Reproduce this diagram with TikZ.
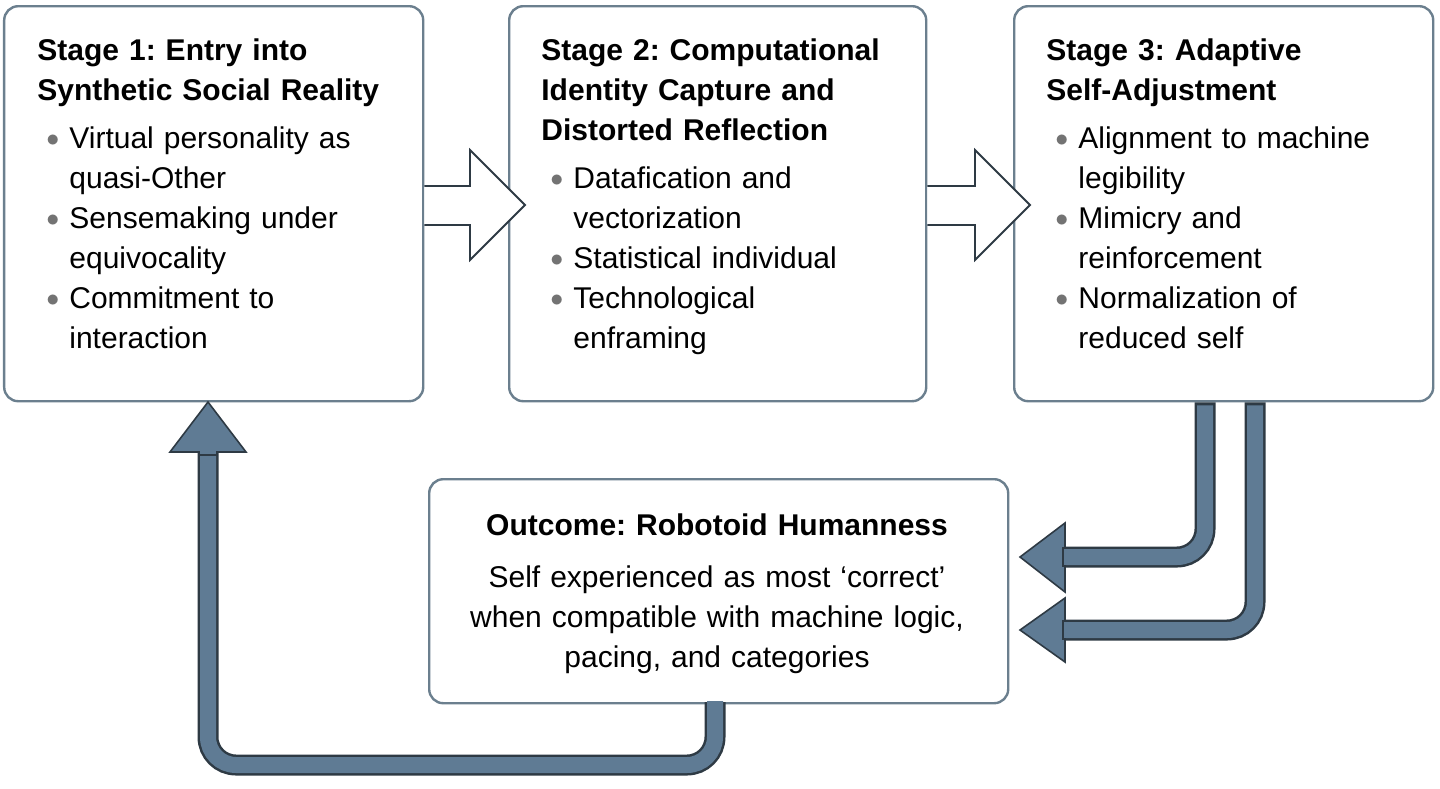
\documentclass[tikz,border=0pt]{standalone}
\usepackage{fontspec}
\setmainfont{Liberation Sans}
\usepackage{enumitem}
\frenchspacing
\definecolor{edge}{HTML}{6B7F8E}
\definecolor{flow}{HTML}{5F7B94}
\definecolor{flowline}{HTML}{2E3A44}
\tikzset{
	stagebox/.style={draw=edge, line width=1.2pt, rounded corners=7pt, fill=white, anchor=north west},
	stagetext/.style={anchor=north west, align=left, inner sep=0pt, font=\fontsize{15}{20}\selectfont},
	flowout/.style={draw=flowline, line width=10.5pt, rounded corners=14pt},
	flowin/.style={draw=flow, line width=8pt, rounded corners=14pt},
	flowhead/.style={fill=flow, draw=flowline, line width=0.8pt, line join=miter},
	hollowhead/.style={fill=white, draw=flowline, line width=0.9pt, line join=miter}
}
\newcommand{\stagetitle}[1]{{\fontsize{15}{20}\selectfont\bfseries\begin{tabular}{@{}l@{}}#1\end{tabular}\par}\vspace{4pt}}
\setlist[itemize]{leftmargin=16pt, label={\color{gray!90!black}\raisebox{1pt}{\scalebox{0.9}{$\bullet$}}}, itemsep=0pt, topsep=0pt, parsep=0pt}
\begin{document}
\begin{tikzpicture}[x=0.5pt, y=-0.5pt]
	\useasboundingbox (0,0) rectangle (1440,788);
	% boxes
	\node[stagebox, minimum width=209.5pt, minimum height=197.5pt] (s1) at (3,5) {};
	\node[stagebox, minimum width=208.5pt, minimum height=197.5pt] (s2) at (508,5) {};
	\node[stagebox, minimum width=209.5pt, minimum height=197.5pt] (s3) at (1013,5) {};
	\node[stagebox, minimum width=289.5pt, minimum height=112pt] (out) at (428,478) {};
	% texts
	\node[stagetext, text width=168pt] (t1) at (37,32) {\stagetitle{Stage 1: Entry into\\Synthetic Social Reality}
		\begin{itemize}
			\item Virtual personality as quasi-Other
			\item Sensemaking under equivocality
			\item Commitment to interaction
		\end{itemize}};
	\node[stagetext, text width=168pt] (t2) at (541,32) {\stagetitle{Stage 2: Computational\\Identity Capture and\\Distorted Reflection}
		\begin{itemize}
			\item Datafication and vectorization
			\item Statistical individual
			\item Technological enframing
		\end{itemize}};
	\node[stagetext, text width=168pt] (t3) at (1046,32) {\stagetitle{Stage 3: Adaptive\\Self-Adjustment}
		\begin{itemize}
			\item Alignment to machine legibility
			\item Mimicry and reinforcement
			\item Normalization of reduced self
		\end{itemize}};
	\node[stagetext, align=center, anchor=north, text width=280pt] (t4) at (717,513) {{\fontsize{15}{20}\selectfont\bfseries Outcome: Robotoid Humanness\par}\vspace{6pt}
		Self experienced as most `correct'\\when compatible with machine logic,\\pacing, and categories};
	% hollow arrows between stages
	\draw[hollowhead] (s1.east |- 0,186) -- (470,186) -- (470,150) -- (525,205) -- (470,260) -- (470,225) -- (s1.east |- 0,225);
	\draw[hollowhead] (s2.east |- 0,186) -- (975,186) -- (975,150) -- (1030,205) -- (975,260) -- (975,225) -- (s2.east |- 0,225);
	% feedback arrows
	\coordinate (a1) at (1205,557);
	\coordinate (a2) at (1255,630);
	\coordinate (a3) at (208,765);
	\draw[flowout] (a1 |- s3.south) -- (a1) -- (1062,557);
	\draw[flowin] ([yshift=-1.5pt]a1 |- s3.south) -- (a1) -- (1062,557);
	\draw[flowhead] (1065,523) -- (1020,557) -- (1065,592) -- (1065,566) -- (1063,566) -- (1063,548) -- (1065,548) -- cycle;
	\draw[flowout] (a2 |- s3.south) -- (a2) -- (1062,630);
	\draw[flowin] ([yshift=-1.5pt]a2 |- s3.south) -- (a2) -- (1062,630);
	\draw[flowhead] (1065,598) -- (1020,630) -- (1065,662) -- (1065,639) -- (1063,639) -- (1063,621) -- (1065,621) -- cycle;
	\draw[flowout] (715,702) -- (715,765) -- (a3) -- (208,452);
	\draw[flowin] (715,701) -- (715,765) -- (a3) -- (208,452);
	\draw[flowhead] (170,452) -- (208,402) -- (246,452) -- (217,452) -- (217,455) -- (199,455) -- (199,452) -- cycle;
\end{tikzpicture}
\end{document}
